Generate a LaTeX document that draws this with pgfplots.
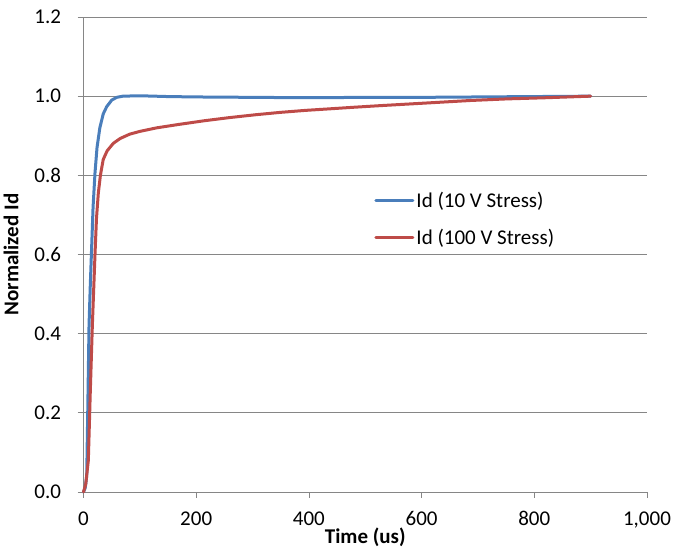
\documentclass[border=0pt]{standalone}
\usepackage{pgfplots}
\pgfplotsset{compat=1.18}
\usepackage{fontspec}
\setmainfont{Carlito}
\definecolor{cblue}{RGB}{74,126,187}
\definecolor{cred}{RGB}{190,75,72}
\definecolor{cgrid}{RGB}{134,134,134}
\newcommand{\fs}{\fontsize{21bp}{24bp}\selectfont}
\begin{document}
\begin{tikzpicture}
\begin{axis}[
  scale only axis,
  width=563.5bp, height=475bp,
  xmin=0, xmax=1000, ymin=0, ymax=1.2,
  xtick={0,200,...,1000},
  ytick={0,0.2,...,1.2},
  axis lines*=left,
  axis line style={cgrid, line width=0.8bp},
  ymajorgrids,
  grid style={cgrid, line width=0.8bp},
  tick style={cgrid, line width=0.8bp},
  tick align=outside,
  major tick length=6bp,
  /pgf/number format/assume math mode=true,
  xticklabel style={/pgf/number format/1000 sep={,}, font=\fs, yshift=-10bp},
  yticklabel style={/pgf/number format/.cd, fixed, fixed zerofill, precision=1, /tikz/.cd, font=\fs, xshift=-13bp},
  scaled x ticks=false,
  xlabel={\bfseries Time (us)},
  ylabel={\bfseries Normalized Id},
  xlabel style={font=\fs, at={(axis description cs:0.5,0)}, anchor=south, yshift=-58bp},
  ylabel style={font=\fs, at={(axis description cs:0,0.5)}, anchor=north, yshift=83.5bp},
  legend style={draw=none, fill=none, at={(axis cs:516,0.69)}, anchor=west, font=\fs, row sep=16bp, inner sep=0pt},
  legend cell align=left,
  legend image code/.code={\draw[#1] (0bp,0bp) -- (37bp,0bp);},
  every axis plot/.append style={line width=3bp, line join=round, line cap=round},
  clip=false,
]
\addplot[cblue] coordinates {
(0,0) (3,0.01) (5.7,0.04) (7.5,0.2) (9.8,0.42) (12,0.52) (14.5,0.62) (17,0.72) (20.4,0.806) (24,0.87) (29,0.92) (35,0.955) (41,0.973) (50,0.99) (59,0.997) (70,1.0) (100,1.001) (150,0.999) (200,0.998) (300,0.997) (400,0.996) (500,0.997) (600,0.997) (700,0.998) (800,0.999) (900,1.0)
};
\addlegendentry{Id (10 V Stress)}
\addplot[cred] coordinates {
(0,0) (4,0.02) (8.6,0.08) (12,0.25) (15.7,0.42) (20.4,0.60) (23,0.69) (26.3,0.755) (30,0.80) (35,0.84) (42,0.862) (53,0.881) (65,0.893) (82,0.904) (100,0.911) (130,0.920) (171,0.929) (215,0.938) (260,0.946) (305,0.953) (349,0.959) (393,0.964) (437,0.968) (480,0.972) (526,0.976) (600,0.982) (686,0.989) (750,0.993) (820,0.996) (900,1.0)
};
\addlegendentry{Id (100 V Stress)}
\end{axis}
\pgfresetboundingbox
\path ([shift={(-83.5bp,-58bp)}]current axis.south west) rectangle ([shift={(26bp,17bp)}]current axis.north east);
\end{tikzpicture}
\end{document}
